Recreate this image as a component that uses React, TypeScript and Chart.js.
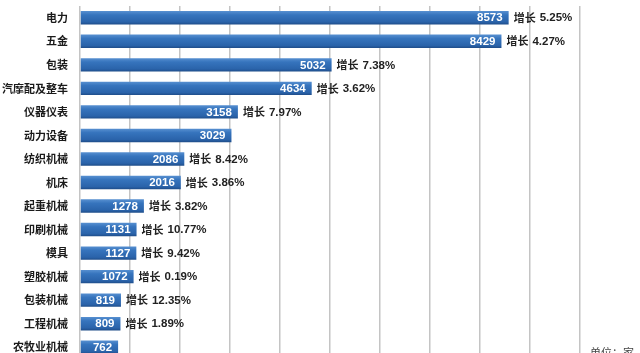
import React, { useEffect, useRef } from "react";
import { Chart, registerables } from "chart.js";

Chart.register(...registerables);

const categories = [
  "电力", "五金", "包装", "汽摩配及整车", "仪器仪表", "动力设备", "纺织机械", "机床",
  "起重机械", "印刷机械", "模具", "塑胶机械", "包装机械", "工程机械", "农牧业机械",
];
const counts = [8573, 8429, 5032, 4634, 3158, 3029, 2086, 2016, 1278, 1131, 1127, 1072, 819, 809, 762];
const growth = ["5.25%", "4.27%", "7.38%", "3.62%", "7.97%", "", "8.42%", "3.86%", "3.82%", "10.77%", "9.42%", "0.19%", "12.35%", "1.89%", ""];
const unitLabel = "单位：家";
const axisMax = 10000;
const axisStep = 1000;

const CJK = '"Noto Sans CJK SC", "Liberation Sans", sans-serif';
const NUM = '"Liberation Sans", Arial, sans-serif';

const labelPlugin = {
  id: "barLabels",
  afterDatasetsDraw(chart: any) {
    const ctx = chart.ctx;
    const meta = chart.getDatasetMeta(0);
    ctx.save();
    meta.data.forEach((bar: any, i: number) => {
      const x = bar.x;
      const y = bar.y;
      ctx.textBaseline = "middle";
      ctx.textAlign = "right";
      ctx.fillStyle = "#ffffff";
      ctx.font = `bold 11.5px ${NUM}`;
      ctx.fillText(String(counts[i]), x - 6, y + 0.5);
      if (growth[i]) {
        ctx.textAlign = "left";
        ctx.fillStyle = "#222222";
        ctx.font = `bold 11px ${CJK}`;
        const pre = "增长";
        ctx.fillText(pre, x + 5, y);
        const w = ctx.measureText(pre).width;
        ctx.font = `bold 11.5px ${NUM}`;
        ctx.fillText(growth[i], x + 5 + w + 4, y + 0.5);
      }
    });
    ctx.textAlign = "left";
    ctx.fillStyle = "#444444";
    ctx.font = `11px ${CJK}`;
    ctx.fillText(unitLabel, 590, 353);
    ctx.restore();
  },
};

export default function App() {
  const ref = useRef<HTMLCanvasElement | null>(null);
  useEffect(() => {
    if (!ref.current) return;
    const chart = new Chart(ref.current, {
      type: "bar",
      data: {
        labels: categories,
        datasets: [
          {
            data: counts,
            backgroundColor: (c: any) => {
              const ch = c.chart;
              const ys = ch.scales && ch.scales.y;
              if (!ys || c.dataIndex === undefined) return "#2f6cb6";
              const cy = ys.getPixelForValue(c.dataIndex);
              if (!isFinite(cy)) return "#2f6cb6";
              const g = ch.ctx.createLinearGradient(0, cy - 7, 0, cy + 7);
              g.addColorStop(0, "#5a92d2");
              g.addColorStop(0.3, "#3674bd");
              g.addColorStop(0.8, "#2a63aa");
              g.addColorStop(1, "#1d4a85");
              return g;
            },
            borderWidth: 0,
            barPercentage: 0.57,
            categoryPercentage: 1,
          },
        ],
      },
      options: {
        indexAxis: "y",
        responsive: true,
        maintainAspectRatio: false,
        animation: false,
        layout: { padding: { top: 6, right: 60, bottom: 11, left: 0 } },
        plugins: { legend: { display: false }, tooltip: { enabled: false } },
        scales: {
          x: {
            min: 0,
            max: axisMax,
            ticks: { display: false, stepSize: axisStep },
            grid: { color: "#c4c4c4", lineWidth: 1.5, drawTicks: false },
            border: { display: false },
            afterFit: (s: any) => { s.height = 0; s.paddingLeft = 0; s.paddingRight = 0; },
          },
          y: {
            ticks: {
              color: "#1a1a1a",
              font: { family: CJK, size: 11, weight: "bold" },
              padding: 12,
            },
            grid: { display: false, drawTicks: false },
            border: { display: false },
            afterFit: (s: any) => { s.width = 80; s.paddingTop = 0; s.paddingBottom = 0; },
          },
        },
      },
      plugins: [labelPlugin],
    } as any);
    return () => chart.destroy();
  }, []);
  return (
    <div style={{ position: "absolute", left: 0, top: 0, width: 640, height: 370, background: "#ffffff" }}>
      <canvas ref={ref} />
    </div>
  );
}
